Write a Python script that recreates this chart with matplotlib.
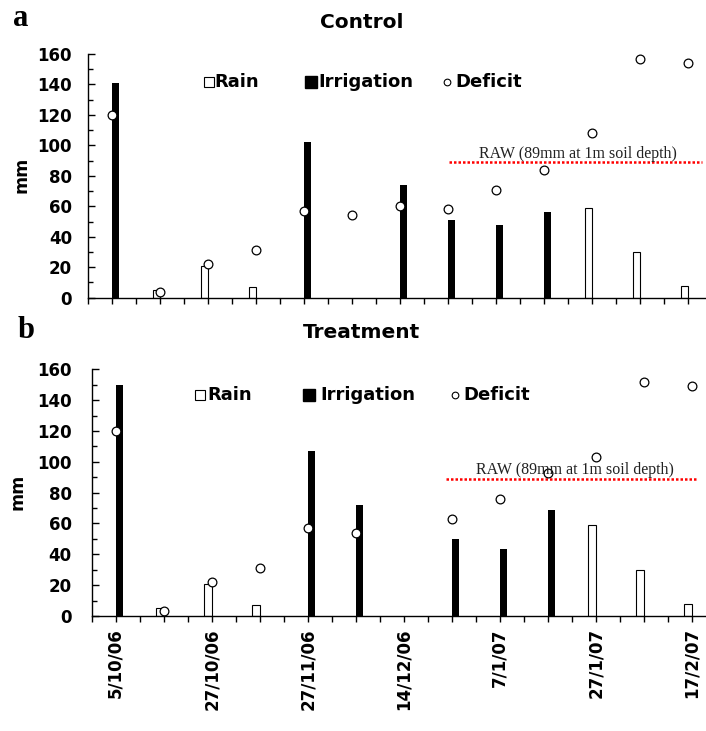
import numpy as np
import matplotlib
matplotlib.use("Agg")
from matplotlib import pyplot as plt
from matplotlib.lines import Line2D

plt.rcParams['font.family'] = ['DejaVu Sans']
plt.rcParams['font.weight'] = 'bold'

# water balance per sampling period (mm)
rain_control = [0, 5, 21, 7, 0, 0, 0, 0, 0, 0, 59, 30, 8]
irrig_control = [141, 0, 0, 0, 102, 0, 74, 51, 48, 56, 0, 0, 0]
deficit_control = [120, 3.5, 22, 31.5, 57, 54, 60, 58, 71, 84, 108, 156.5, 154]

rain_treat = [0, 5, 21, 7, 0, 0, 0, 0, 0, 0, 59, 30, 8]
irrig_treat = [150, 0, 0, 0, 107, 72, 0, 50, 43.5, 69, 0, 0, 0]
deficit_treat = [120, 3, 22, 31, 57, 54, np.nan, 63, 76, 93, 103, 151.5, 149]

date_labels = ['5/10/06', '27/10/06', '27/11/06', '14/12/06', '7/1/07', '27/1/07', '17/2/07']
raw_level = 89
raw_label = 'RAW (89mm at 1m soil depth)'

W, H = 706, 731
fig = plt.figure(figsize=(W / 100, H / 100), dpi=100)


def fx(x):
    return x / W


def fy(y):
    return 1 - y / H


def panel(left, top, bottom, rain, irrig, deficit, raw_span, raw_text_x, ylab_pad):
    ax = fig.add_axes([fx(left), fy(bottom), 624 / W, (bottom - top) / H])
    x = np.arange(len(rain))
    rain = np.array(rain, dtype=float)
    irrig = np.array(irrig, dtype=float)
    w = 0.152
    ax.bar(x[rain > 0], rain[rain > 0], width=-w, align='edge',
           facecolor='white', edgecolor='black', linewidth=0.8, zorder=2)
    ax.bar(x[irrig > 0], irrig[irrig > 0], width=w, align='edge',
           color='black', zorder=2)
    ax.plot(x, deficit, 'o', ms=6.3, mfc='white', mec='black', mew=0.9,
            ls='none', zorder=3, clip_on=False)

    ax.hlines(raw_level, raw_span[0], raw_span[1], colors='red',
              linestyles=(0, (1, 0.8)), linewidth=1.8, zorder=1)
    ax.annotate(raw_label, xy=(raw_text_x, raw_level), xytext=(0, 3.2),
                textcoords='offset points', ha='center', va='baseline',
                family='Liberation Serif', fontsize=11.5, fontweight='normal',
                color='#222222')

    ax.set_xlim(-0.5, len(rain) - 0.5)
    ax.set_ylim(0, 160)
    ax.set_yticks(range(0, 161, 20))
    ax.set_yticks(range(0, 161, 10), minor=True)
    ax.set_xticks(np.arange(0, len(rain), 2))
    ax.set_xticks(np.arange(-0.5, len(rain), 0.5), minor=True)
    ax.tick_params(axis='y', which='major', direction='in', length=5,
                   width=1, pad=ylab_pad, labelsize=12)
    ax.tick_params(axis='y', which='minor', direction='in', length=3.6, width=1)
    ax.tick_params(axis='x', which='both', direction='out', length=4.3, width=1)
    for side in ('top', 'right'):
        ax.spines[side].set_visible(False)
    for side in ('left', 'bottom'):
        ax.spines[side].set_linewidth(1.0)
    return ax


ax_a = panel(88, 54, 297.7, rain_control, irrig_control, deficit_control,
             (7.02, 12.29), 9.71, 11.5)
ax_a.set_xticklabels([])

ax_b = panel(91.7, 369.3, 616, rain_treat, irrig_treat, deficit_treat,
             (6.875, 12.13), 9.56, 14.4)
ax_b.set_xticklabels(date_labels, rotation=90, fontsize=12, va='top', ha='center')
ax_b.tick_params(axis='x', which='major', pad=4.5)

# titles, panel letters and axis labels
fig.text(fx(362), fy(22), 'Control', ha='center', va='center', fontsize=14.5)
fig.text(fx(361.5), fy(333), 'Treatment', ha='center', va='center', fontsize=14.5)
fig.text(fx(13), fy(26), 'a', family='Liberation Serif', fontsize=22, va='baseline')
fig.text(fx(18), fy(338), 'b', family='Liberation Serif', fontsize=22, va='baseline')
fig.text(fx(21), fy(175), 'mm', rotation=90, ha='center', va='center', fontsize=12.5)
fig.text(fx(18), fy(492), 'mm', rotation=90, ha='center', va='center', fontsize=12.5)


def legend_row(y, rain_x, irr_x, def_x, texts_x):
    fig.add_artist(Line2D([fx(rain_x)], [fy(y)], marker='s', ms=7, mfc='white',
                          mec='black', mew=0.8, transform=fig.transFigure))
    fig.add_artist(Line2D([fx(irr_x)], [fy(y)], marker='s', ms=8.5, mfc='black',
                          mec='black', transform=fig.transFigure))
    fig.add_artist(Line2D([fx(def_x)], [fy(y)], marker='o', ms=4.8, mfc='white',
                          mec='black', mew=0.8, transform=fig.transFigure))
    for tx, label in zip(texts_x, ['Rain', 'Irrigation', 'Deficit']):
        fig.text(fx(tx), fy(y), label, ha='left', va='center', fontsize=13)


legend_row(82, 209, 310.5, 446.5, (214, 318, 455))
legend_row(395, 200, 309, 455, (207, 320, 463))

fig.savefig('out.png', dpi=100)
